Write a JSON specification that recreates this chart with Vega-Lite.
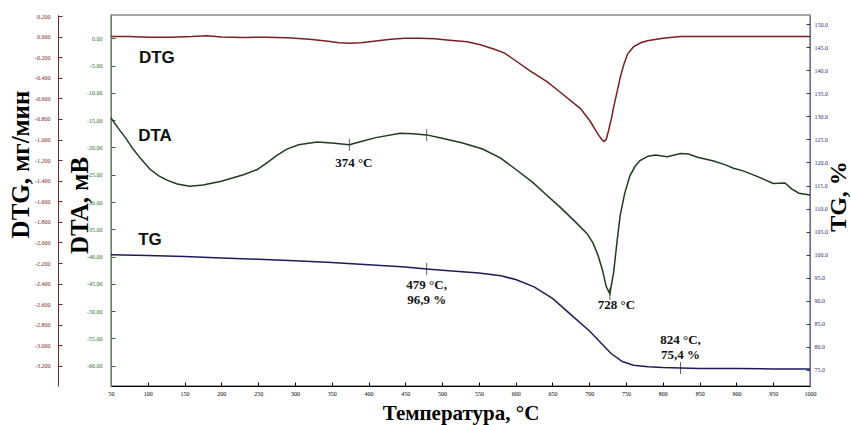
{
  "$schema": "https://vega.github.io/schema/vega-lite/v6.json",
  "width": 699,
  "height": 371,
  "autosize": {"type": "none"},
  "padding": {"left": 111, "top": 15, "right": 41, "bottom": 39},
  "background": "white",
  "config": {
    "view": {"stroke": "#8a8a8a", "strokeWidth": 1.5},
    "axis": {"grid": false, "labelFont": "Liberation Sans Narrow", "labelFontSize": 6, "titleFont": "Liberation Serif", "titleFontWeight": "bold", "titleColor": "#000000", "labelFlush": false, "labelOverlap": false}
  },
  "datasets": {
    "dtg": [
      {"t": 50, "v": 0.0}, {"t": 75, "v": 0.0}, {"t": 100, "v": -0.005}, {"t": 130, "v": -0.005}, {"t": 160, "v": 0.0}, {"t": 180, "v": 0.008}, {"t": 200, "v": -0.003}, {"t": 230, "v": -0.008}, {"t": 260, "v": -0.005}, {"t": 290, "v": -0.01}, {"t": 320, "v": -0.025}, {"t": 345, "v": -0.045}, {"t": 360, "v": -0.06}, {"t": 375, "v": -0.065}, {"t": 390, "v": -0.06}, {"t": 410, "v": -0.042}, {"t": 430, "v": -0.025}, {"t": 450, "v": -0.015}, {"t": 470, "v": -0.015}, {"t": 490, "v": -0.02}, {"t": 510, "v": -0.035}, {"t": 534, "v": -0.05}, {"t": 552, "v": -0.08}, {"t": 570, "v": -0.12}, {"t": 585, "v": -0.16}, {"t": 597, "v": -0.22}, {"t": 619, "v": -0.33}, {"t": 643, "v": -0.44}, {"t": 664, "v": -0.56}, {"t": 688, "v": -0.7}, {"t": 701, "v": -0.82}, {"t": 712, "v": -0.95}, {"t": 717, "v": -1.0}, {"t": 720, "v": -1.02}, {"t": 723, "v": -1.0}, {"t": 726, "v": -0.92}, {"t": 730, "v": -0.8}, {"t": 733, "v": -0.69}, {"t": 738, "v": -0.53}, {"t": 742, "v": -0.4}, {"t": 747, "v": -0.27}, {"t": 752, "v": -0.17}, {"t": 760, "v": -0.1}, {"t": 770, "v": -0.06}, {"t": 779, "v": -0.04}, {"t": 800, "v": -0.015}, {"t": 824, "v": 0.0}, {"t": 900, "v": 0.0}, {"t": 1000, "v": 0.0}
    ],
    "dta": [
      {"t": 50, "v": -14.6}, {"t": 60, "v": -16.5}, {"t": 70, "v": -18.3}, {"t": 80, "v": -20.3}, {"t": 90, "v": -22.0}, {"t": 103, "v": -24.0}, {"t": 115, "v": -25.2}, {"t": 126, "v": -26.0}, {"t": 140, "v": -26.7}, {"t": 157, "v": -27.1}, {"t": 175, "v": -26.9}, {"t": 200, "v": -26.2}, {"t": 230, "v": -25.0}, {"t": 248, "v": -24.1}, {"t": 260, "v": -23.0}, {"t": 275, "v": -21.5}, {"t": 289, "v": -20.3}, {"t": 305, "v": -19.5}, {"t": 330, "v": -19.0}, {"t": 350, "v": -19.2}, {"t": 374, "v": -19.5}, {"t": 390, "v": -18.9}, {"t": 410, "v": -18.2}, {"t": 443, "v": -17.4}, {"t": 460, "v": -17.5}, {"t": 479, "v": -17.7}, {"t": 500, "v": -18.3}, {"t": 528, "v": -19.2}, {"t": 555, "v": -20.3}, {"t": 579, "v": -21.9}, {"t": 600, "v": -24.0}, {"t": 624, "v": -26.5}, {"t": 640, "v": -28.5}, {"t": 660, "v": -30.9}, {"t": 680, "v": -33.5}, {"t": 697, "v": -35.8}, {"t": 705, "v": -37.5}, {"t": 712, "v": -39.8}, {"t": 718, "v": -42.5}, {"t": 723, "v": -45.5}, {"t": 728, "v": -46.8}, {"t": 733, "v": -43.0}, {"t": 738, "v": -37.0}, {"t": 742, "v": -32.5}, {"t": 748, "v": -28.5}, {"t": 755, "v": -25.3}, {"t": 762, "v": -23.5}, {"t": 769, "v": -22.4}, {"t": 780, "v": -21.6}, {"t": 790, "v": -21.4}, {"t": 806, "v": -21.7}, {"t": 824, "v": -21.1}, {"t": 835, "v": -21.2}, {"t": 847, "v": -21.8}, {"t": 869, "v": -22.5}, {"t": 885, "v": -23.2}, {"t": 896, "v": -23.8}, {"t": 909, "v": -24.3}, {"t": 928, "v": -25.3}, {"t": 950, "v": -26.6}, {"t": 966, "v": -26.5}, {"t": 975, "v": -27.6}, {"t": 985, "v": -28.4}, {"t": 1000, "v": -28.7}
    ],
    "tg": [
      {"t": 50, "v": 100.0}, {"t": 100, "v": 99.8}, {"t": 150, "v": 99.6}, {"t": 200, "v": 99.3}, {"t": 250, "v": 99.0}, {"t": 300, "v": 98.7}, {"t": 350, "v": 98.3}, {"t": 400, "v": 97.8}, {"t": 450, "v": 97.3}, {"t": 479, "v": 96.9}, {"t": 500, "v": 96.6}, {"t": 550, "v": 96.0}, {"t": 580, "v": 95.4}, {"t": 600, "v": 94.6}, {"t": 625, "v": 93.0}, {"t": 650, "v": 90.5}, {"t": 675, "v": 87.0}, {"t": 700, "v": 83.5}, {"t": 715, "v": 81.0}, {"t": 730, "v": 78.5}, {"t": 745, "v": 76.8}, {"t": 760, "v": 76.0}, {"t": 780, "v": 75.7}, {"t": 800, "v": 75.5}, {"t": 824, "v": 75.4}, {"t": 850, "v": 75.3}, {"t": 900, "v": 75.3}, {"t": 950, "v": 75.2}, {"t": 1000, "v": 75.2}
    ],
    "dtaMarks": [{"t": 374, "v": -19.5}, {"t": 479, "v": -17.7}, {"t": 728, "v": -46.8}],
    "tgMarks": [{"t": 479, "v": 96.9}, {"t": 824, "v": 75.4}],
    "dtaText": [
      {"t": 380, "v": -22.85, "label": "374 °C"},
      {"t": 737, "v": -48.9, "label": "728 °C"}
    ],
    "tgText": [
      {"t": 479, "v": 93.4, "label": "479 °C,"},
      {"t": 479, "v": 90.1, "label": "96,9 %"},
      {"t": 824, "v": 81.5, "label": "824 °C,"},
      {"t": 824, "v": 78.2, "label": "75,4 %"}
    ],
    "series": [
      {"t": 88, "v": -3.7, "label": "DTG"},
      {"t": 87, "v": -17.9, "label": "DTA"},
      {"t": 87, "v": -37.0, "label": "TG"}
    ]
  },
  "encoding": {
    "x": {"field": "t", "type": "quantitative", "scale": {"domain": [50, 1000], "nice": false}, "title": "Температура, °C",
      "axis": {"values": [50, 100, 150, 200, 250, 300, 350, 400, 450, 500, 550, 600, 650, 700, 750, 800, 850, 900, 950, 1000], "format": "d", "labelOverlap": false, "labelBound": false, "tickSize": -4, "labelPadding": 8, "domainColor": "#000000", "tickColor": "#000000", "labelColor": "#000000", "titleFontSize": 21, "titleBaseline": "middle", "titleY": 27}}
  },
  "layer": [
    {
      "data": {"name": "dtg"},
      "mark": {"type": "line", "color": "#7a2020", "strokeWidth": 1.5},
      "encoding": {
        "y": {"field": "v", "type": "quantitative", "scale": {"domain": [-3.395, 0.21], "nice": false, "zero": false},
          "axis": {"orient": "left", "offset": 53, "values": [0.2, 0, -0.2, -0.4, -0.6, -0.8, -1, -1.2, -1.4, -1.6, -1.8, -2, -2.2, -2.4, -2.6, -2.8, -3, -3.2], "labelOverlap": false, "labelExpr": "replace(format(datum.value, '.3f'), '−', '-')", "labelColor": "#7a1e1e", "domainColor": "#6e2a2a", "tickColor": "#6e2a2a", "tickSize": -4, "labelPadding": 12, "title": "DTG, мг/мин", "titleFontSize": 25, "titleBaseline": "middle", "titleAngle": -90, "titleX": -38, "titleY": 149}}
      }
    },
    {
      "data": {"name": "dta"},
      "mark": {"type": "line", "color": "#1f3b1f", "strokeWidth": 1.5},
      "encoding": {
        "y": {"field": "v", "type": "quantitative", "scale": {"domain": [-63.72, 4.27], "nice": false, "zero": false},
          "axis": {"orient": "left", "offset": 0, "values": [0, -5, -10, -15, -20, -25, -30, -35, -40, -45, -50, -55, -60], "labelOverlap": false, "labelExpr": "replace(format(datum.value, '.2f'), '−', '-')", "labelColor": "#2e6a2e", "domainColor": "#5a8a5a", "tickColor": "#2e6a2e", "tickSize": -4, "labelPadding": 13, "title": "DTA, мВ", "titleFontSize": 25, "titleBaseline": "middle", "titleAngle": -90, "titleX": -32, "titleY": 190}}
      }
    },
    {
      "data": {"name": "tg"},
      "mark": {"type": "line", "color": "#1c1c5c", "strokeWidth": 1.5},
      "encoding": {
        "y": {"field": "v", "type": "quantitative", "scale": {"domain": [71.5, 152], "nice": false, "zero": false},
          "axis": {"orient": "right", "values": [75, 80, 85, 90, 95, 100, 105, 110, 115, 120, 125, 130, 135, 140, 145, 150], "labelOverlap": false, "format": ".1f", "labelColor": "#2a2a6e", "domainColor": "#6a6a9a", "tickColor": "#2a2a6e", "tickSize": -4, "labelPadding": 8, "title": "TG, %", "titleFontSize": 24, "titleBaseline": "middle", "titleAngle": -90, "titleX": 28, "titleY": 181}}
      }
    },
    {
      "data": {"name": "dtaMarks"},
      "mark": {"type": "tick", "orient": "vertical", "size": 12, "thickness": 1, "color": "#222222"},
      "encoding": {
        "y": {"field": "v", "type": "quantitative", "scale": {"domain": [-63.72, 4.27], "nice": false, "zero": false}, "axis": null}
      }
    },
    {
      "data": {"name": "tgMarks"},
      "mark": {"type": "tick", "orient": "vertical", "size": 12, "thickness": 1, "color": "#222222"},
      "encoding": {
        "y": {"field": "v", "type": "quantitative", "scale": {"domain": [71.5, 152], "nice": false, "zero": false}, "axis": null}
      }
    },
    {
      "data": {"name": "dtaText"},
      "mark": {"type": "text", "font": "Liberation Serif", "fontWeight": "bold", "fontSize": 13, "color": "#111111", "align": "center", "baseline": "middle"},
      "encoding": {
        "y": {"field": "v", "type": "quantitative", "scale": {"domain": [-63.72, 4.27], "nice": false, "zero": false}, "axis": null},
        "text": {"field": "label"}
      }
    },
    {
      "data": {"name": "tgText"},
      "mark": {"type": "text", "font": "Liberation Serif", "fontWeight": "bold", "fontSize": 13, "color": "#111111", "align": "center", "baseline": "middle"},
      "encoding": {
        "y": {"field": "v", "type": "quantitative", "scale": {"domain": [71.5, 152], "nice": false, "zero": false}, "axis": null},
        "text": {"field": "label"}
      }
    },
    {
      "data": {"name": "series"},
      "mark": {"type": "text", "font": "Liberation Sans", "fontWeight": "bold", "fontSize": 17, "color": "#111111", "align": "left", "baseline": "middle"},
      "encoding": {
        "y": {"field": "v", "type": "quantitative", "scale": {"domain": [-63.72, 4.27], "nice": false, "zero": false}, "axis": null},
        "text": {"field": "label"}
      }
    }
  ],
  "resolve": {"scale": {"y": "independent"}, "axis": {"y": "independent"}}
}
